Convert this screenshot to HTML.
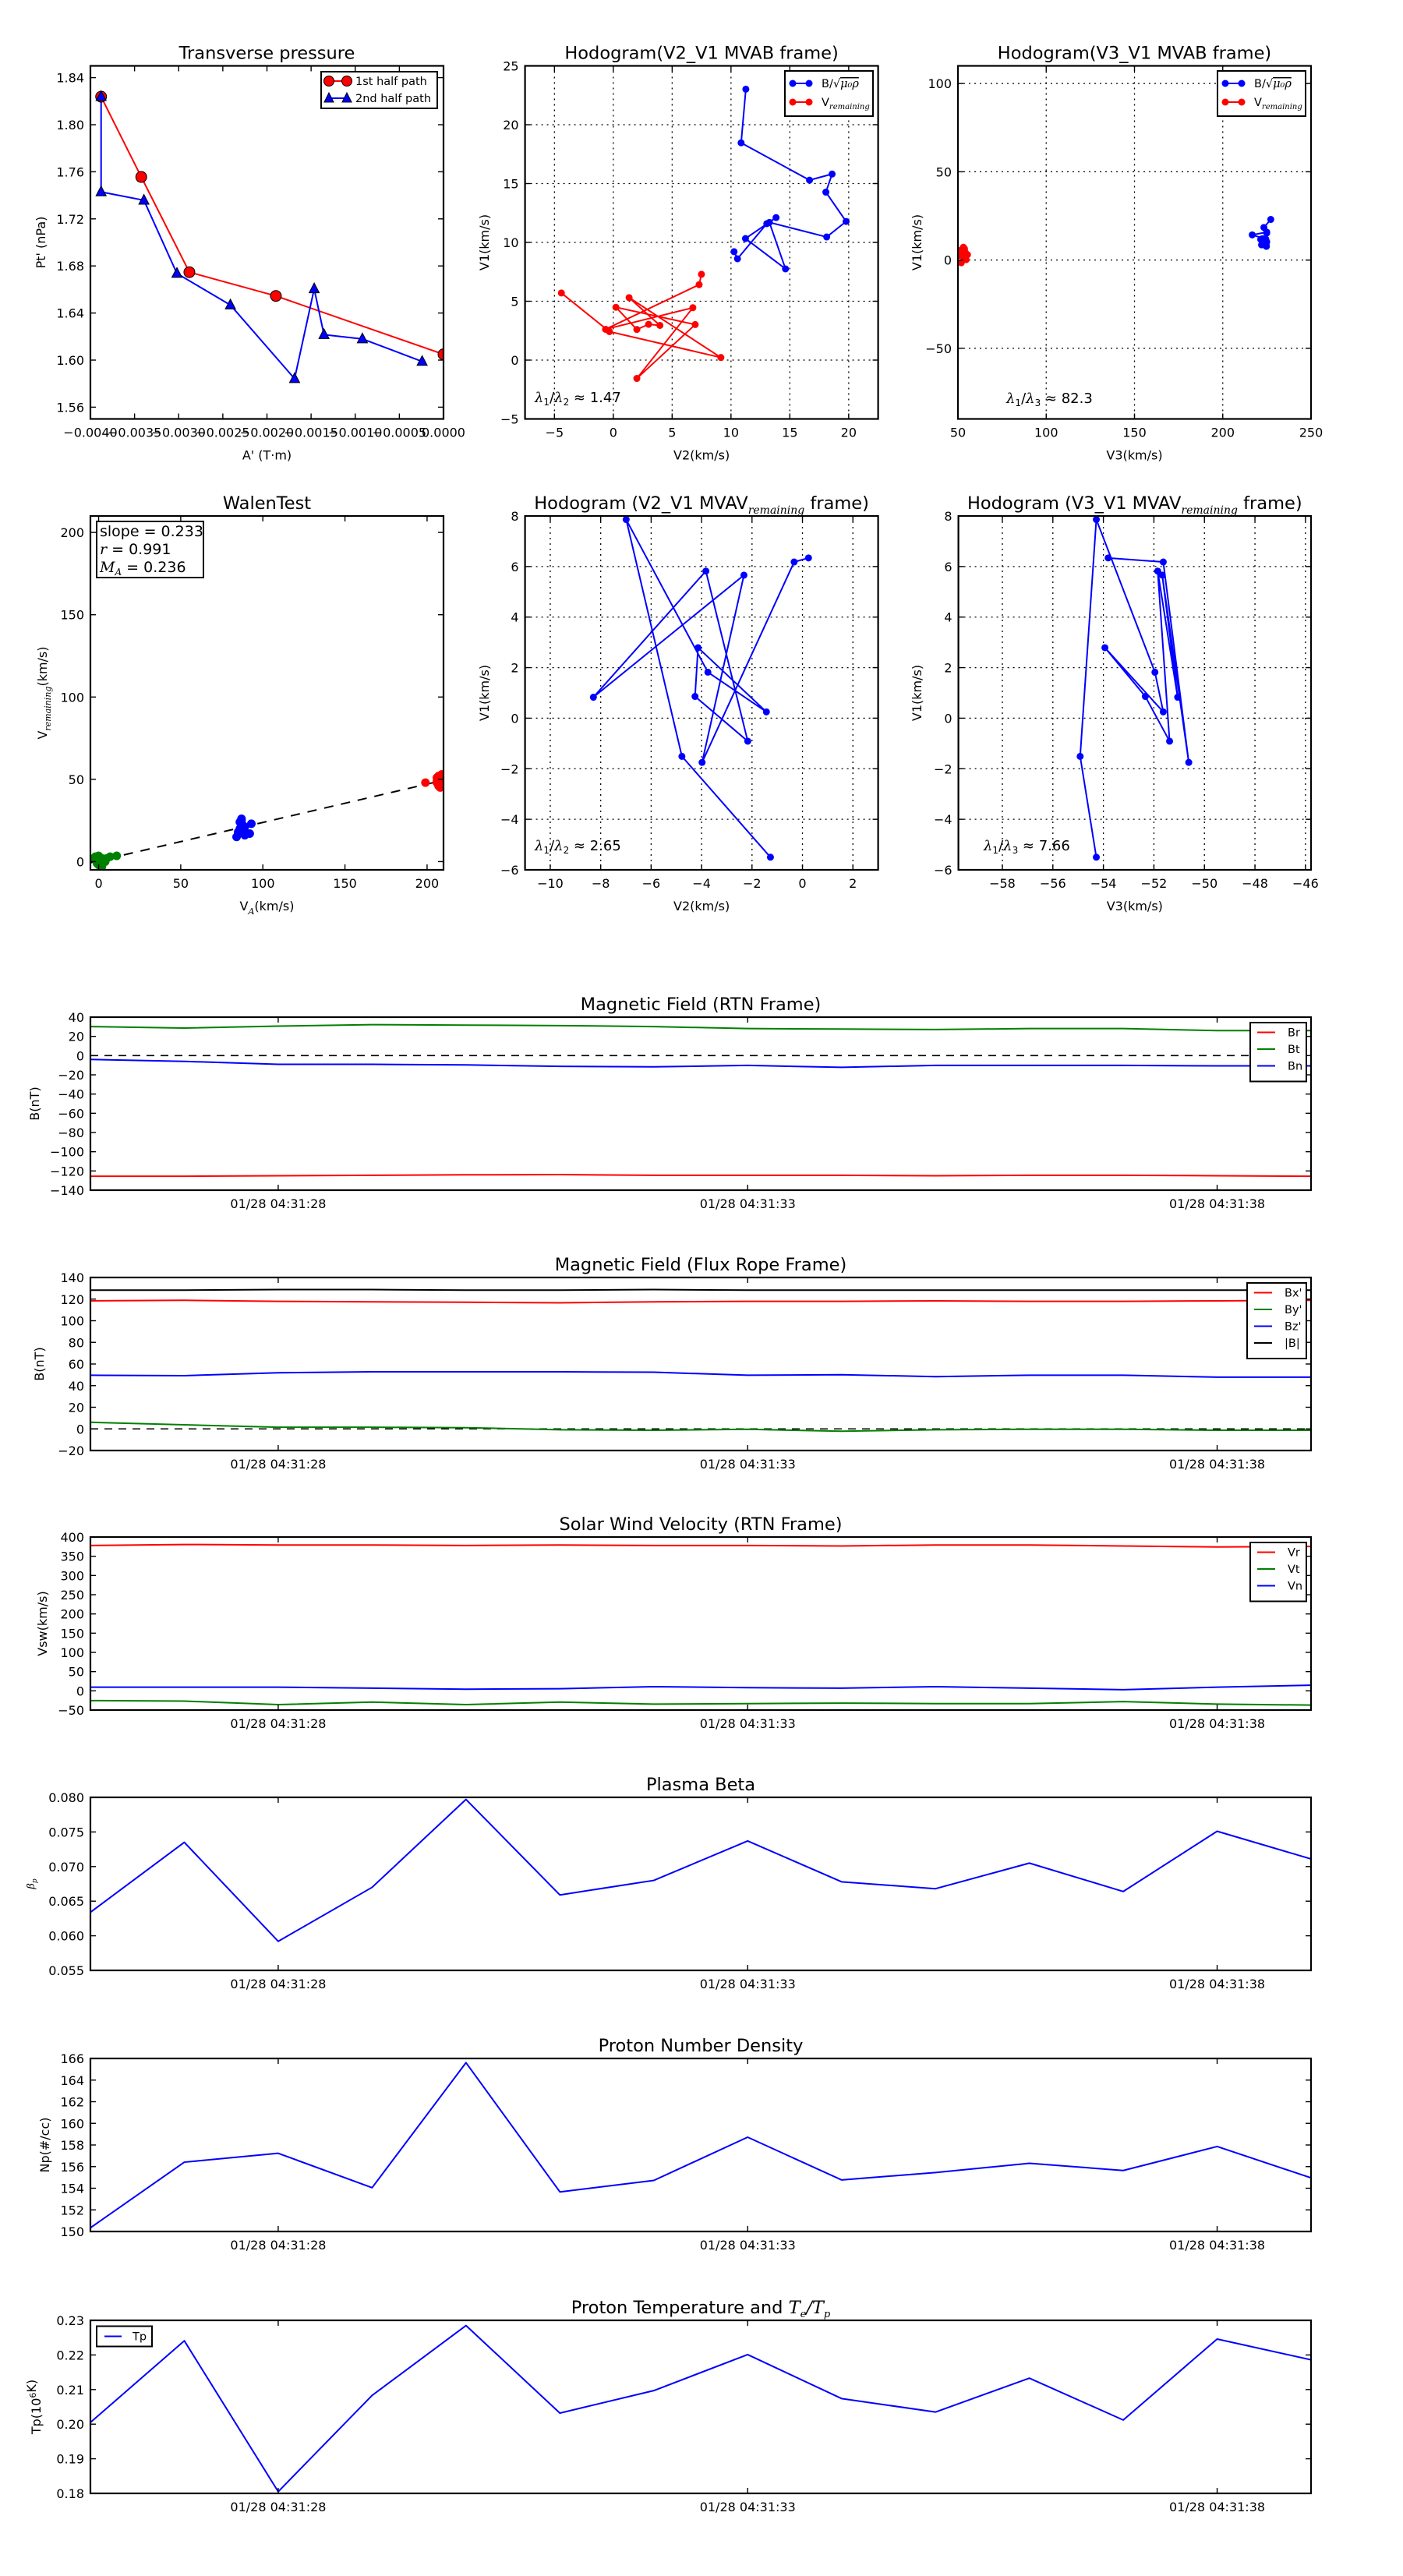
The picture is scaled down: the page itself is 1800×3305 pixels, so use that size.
<!DOCTYPE html>
<html>
<head>
<meta charset="utf-8">
<style>
html,body{margin:0;padding:0;background:#fff;}
svg text{font-family:"DejaVu Sans","Liberation Sans",sans-serif;fill:#000;}
</style>
</head>
<body>
<svg id="fig" width="1800" height="3300" viewBox="0 0 1800 3300" xmlns="http://www.w3.org/2000/svg">
<rect x="0" y="0" width="1800" height="3300" fill="#ffffff"/>
</svg>
<script>
// ---------------- DATA ----------------
const p1A1 = [-0.003879,-0.003424,-0.002879,-0.001899,0.0];
const p1P1 = [1.8238,1.7556,1.6747,1.6545,1.6049];
const p1A2 = [-0.003879,-0.003879,-0.003394,-0.003020,-0.002414,-0.001687,-0.001465,-0.001354,-0.000919,-0.000242];
const p1P2 = [1.8238,1.7429,1.7358,1.6736,1.6468,1.5842,1.6605,1.6216,1.6180,1.5988];
const hB_V2 = [11.26,10.86,16.67,18.59,18.06,19.78,18.13,13.26,14.63,11.23,13.83,13.04,10.55,10.26];
const hB_V1 = [23.02,18.46,15.29,15.81,14.27,11.78,10.46,11.70,7.75,10.33,12.11,11.59,8.61,9.21];
const hB_V3 = [227.2,223.3,224.9,224.9,216.7,224.4,223.1,221.5,224.7,224.9,222.5,224.0,222.0,224.6];
const hV_V2 = [7.49,7.29,-0.66,6.76,2.00,6.96,0.22,2.00,3.00,3.96,1.34,9.14,-0.33,-4.41];
const hV_V1 = [7.29,6.41,2.62,4.45,-1.56,3.02,4.49,2.60,3.04,2.95,5.31,0.22,2.42,5.70];
const hV_V3 = [53.1,53.7,52.6,54.1,51.9,54.8,53.4,51.2,55.4,52.2,51.3,54.6,52.0,51.9];
const wGreenX = [-2,-1,0,1,2,3,4,7,11,0,-1,2,5,-3];
const wGreenY = [3,1,-2,0,2,1,0,3,3.5,3.5,-1,-3,2,2];
const wBlueX = [87,86,88,93,84,85,90,89,86,88,92,87,85,89];
const wBlueY = [26,24,22,23,15,18,17,16,20,19,17,25,17,21];
const wRedX = [199,206,207,209,208,207,210,206,208,209,207,208,210,206];
const wRedY = [48,51,52,53,47,46,49,48,50,51,48,45,52,49];
const walenSlope = 0.233;
const walenIntercept = 0.5;
const mV2 = [0.24,-0.33,-3.98,-2.32,-8.29,-3.83,-2.17,-4.26,-4.14,-1.43,-3.75,-6.99,-4.78,-1.27];
const mV1 = [6.34,6.18,-1.75,5.66,0.83,5.82,-0.91,0.86,2.79,0.25,1.82,7.86,-1.51,-5.50];
const mV3 = [-53.81,-51.63,-50.62,-51.67,-51.06,-51.85,-51.38,-52.34,-53.94,-51.63,-51.96,-54.28,-54.92,-54.28];
const tSec = [26,27,28,29,30,31,32,33,34,35,36,37,38,39];
const timeTicks = [28,33,38];
const timeLabels = ['01/28 04:31:28','01/28 04:31:33','01/28 04:31:38'];
const Br = [-125.5,-125.5,-125,-124.5,-124,-123.8,-124.5,-124.5,-124.5,-125,-124.5,-124.5,-125,-125.5];
const Bt = [30.2,28.6,30.7,32.2,31.7,31.2,30.2,28.1,27.6,27.1,28.1,28.1,26.0,26.0];
const Bn = [-4,-6,-9.1,-9.1,-9.7,-11.2,-11.7,-10.2,-12.2,-10.2,-10.2,-10.2,-10.7,-10.7];
const Bxp = [118.4,118.9,117.9,117.5,117.1,116.6,117.5,117.9,117.9,118.4,117.9,117.9,118.4,118.9];
const Byp = [6.1,3.8,1.5,1.5,1.1,-0.8,-1.3,-0.4,-2.2,-0.8,-0.4,-0.4,-1.3,-1.3];
const Bzp = [49.6,49.2,51.9,52.8,52.8,52.8,52.4,49.6,50.1,48.3,49.6,49.6,47.8,47.8];
const Bmag = [128.3,128.3,128.8,128.8,128.3,128.3,128.8,128.3,128.3,128.3,128.3,128.3,128.3,128.3];
const Vr = [378,380.6,379.3,379.3,378,379.3,378,378,376.7,379.3,379.3,376.7,374.1,375.4];
const Vt = [-25.4,-26.7,-35.8,-29.3,-35.8,-29.3,-34.5,-33.2,-31.9,-33.2,-33.2,-28,-34.5,-37.1];
const Vn = [9.5,9.5,9.5,6.9,4.3,5.6,10.8,8.2,6.9,10.8,6.9,3.0,9.5,14.6];
const beta = [0.0634,0.0735,0.0592,0.0670,0.0797,0.0659,0.0680,0.0737,0.0678,0.0668,0.0705,0.0664,0.0751,0.0711];
const Np = [150.34,156.41,157.23,154.05,165.61,153.66,154.72,158.72,154.77,155.45,156.31,155.64,157.86,154.96];
const Tp = [0.2005,0.2241,0.1805,0.2083,0.2285,0.2032,0.2097,0.2201,0.2074,0.2035,0.2133,0.2012,0.2246,0.2186];
const p1XTicks = [-0.004,-0.0035,-0.003,-0.0025,-0.002,-0.0015,-0.001,-0.0005,0];
const p1XLabels = ['\u22120.0040','\u22120.0035','\u22120.0030','\u22120.0025','\u22120.0020','\u22120.0015','\u22120.0010','\u22120.0005','0.0000'];
const p1YTicks = [1.56,1.60,1.64,1.68,1.72,1.76,1.80,1.84];
const p1YLabels = ['1.56','1.60','1.64','1.68','1.72','1.76','1.80','1.84'];
const h1XTicks = [-5,0,5,10,15,20];
const h1XLabels = ['\u22125','0','5','10','15','20'];
const h1YTicks = [-5,0,5,10,15,20,25];
const h1YLabels = ['\u22125','0','5','10','15','20','25'];
const h2XTicks = [50,100,150,200,250];
const h2XLabels = ['50','100','150','200','250'];
const h2YTicks = [-50,0,50,100];
const h2YLabels = ['\u221250','0','50','100'];
const wTicks = [0,50,100,150,200];
const wLabels = ['0','50','100','150','200'];
const m5XTicks = [-10,-8,-6,-4,-2,0,2];
const m5XLabels = ['\u221210','\u22128','\u22126','\u22124','\u22122','0','2'];
const m6XTicks = [-58,-56,-54,-52,-50,-48,-46];
const m6XLabels = ['\u221258','\u221256','\u221254','\u221252','\u221250','\u221248','\u221246'];
const mYTicks = [-6,-4,-2,0,2,4,6,8];
const mYLabels = ['\u22126','\u22124','\u22122','0','2','4','6','8'];
const rtnTicks = [-140,-120,-100,-80,-60,-40,-20,0,20,40];
const rtnLabels = ['\u2212140','\u2212120','\u2212100','\u221280','\u221260','\u221240','\u221220','0','20','40'];
const frTicks = [-20,0,20,40,60,80,100,120,140];
const frLabels = ['\u221220','0','20','40','60','80','100','120','140'];
const vTicks = [-50,0,50,100,150,200,250,300,350,400];
const vLabels = ['\u221250','0','50','100','150','200','250','300','350','400'];
const betaTicks = [0.055,0.060,0.065,0.070,0.075,0.080];
const betaLabels = ['0.055','0.060','0.065','0.070','0.075','0.080'];
const npTicks = [150,152,154,156,158,160,162,164,166];
const npLabels = ['150','152','154','156','158','160','162','164','166'];
const tpTicks = [0.18,0.19,0.20,0.21,0.22,0.23];
const tpLabels = ['0.18','0.19','0.20','0.21','0.22','0.23'];

// ---------------- HELPERS ----------------
const NS = 'http://www.w3.org/2000/svg';
const svg = document.getElementById('fig');
function mk(tag, attrs, parent) {
  const e = document.createElementNS(NS, tag);
  for (const k in attrs) e.setAttribute(k, attrs[k]);
  parent.appendChild(e);
  return e;
}
function txt(parent, x, y, s, size, anchor, name) {
  const t = mk('text', {x: x, y: y, 'font-size': size, 'text-anchor': anchor || 'start'}, parent);
  t.textContent = s;
  
  
  return t;
}
const SERIF = 'font-style="italic" font-family="DejaVu Serif, Liberation Serif, serif"';
function SUBS(s, fs, d) { return '<tspan dy="' + d + '" font-size="' + fs + '" ' + SERIF + '>' + s + '</tspan><tspan dy="-' + d + '">\u200B</tspan>'; }
function SUBN(s, fs, d) { return '<tspan dy="' + d + '" font-size="' + fs + '">' + s + '</tspan><tspan dy="-' + d + '">\u200B</tspan>'; }
const SUB = (s) => SUBS(s, 11, 5);
const VREM = 'V' + SUB('remaining');
const BSQ = 'B/\u221A<tspan ' + SERIF + ' text-decoration="overline">\u03BC\u2080\u03C1</tspan>';
const LAM = '<tspan ' + SERIF + '>\u03BB</tspan>';

function axes(c) {
  const g = mk('g', {}, svg);
  
  
  const sx = v => c.x0 + (v - c.xmin) / (c.xmax - c.xmin) * c.w;
  const sy = v => c.y0 + c.h - (v - c.ymin) / (c.ymax - c.ymin) * c.h;
  const cp = mk('clipPath', {id: c.name + '-clip'}, g);
  
  
  const cr = mk('rect', {x: c.x0, y: c.y0, width: c.w, height: c.h}, cp);
  
  
  if (c.grid) {
    c.xticks.forEach(v => {
      const l = mk('line', {x1: sx(v), x2: sx(v), y1: c.y0, y2: c.y0 + c.h, stroke: '#000', 'stroke-width': 1.3, 'stroke-dasharray': '2,5'}, g);
      
      
    });
    c.yticks.forEach(v => {
      const l = mk('line', {x1: c.x0, x2: c.x0 + c.w, y1: sy(v), y2: sy(v), stroke: '#000', 'stroke-width': 1.3, 'stroke-dasharray': '2,5'}, g);
      
      
    });
  }
  const data = mk('g', {'clip-path': 'url(#' + c.name + '-clip)'}, g);
  
  
  const deco = mk('g', {}, g);
  
  
  c.xticks.forEach((v, i) => {
    const x = sx(v);
    const t1 = mk('line', {x1: x, x2: x, y1: c.y0 + c.h, y2: c.y0 + c.h - 7, stroke: '#000', 'stroke-width': 1.4}, deco);
    
    
    const t2 = mk('line', {x1: x, x2: x, y1: c.y0, y2: c.y0 + 7, stroke: '#000', 'stroke-width': 1.4}, deco);
    
    
    txt(deco, x, c.y0 + c.h + 23, c.xlabels[i], 16, 'middle', 'x-tick-label');
  });
  c.yticks.forEach((v, i) => {
    const y = sy(v);
    const t1 = mk('line', {x1: c.x0, x2: c.x0 + 7, y1: y, y2: y, stroke: '#000', 'stroke-width': 1.4}, deco);
    
    
    const t2 = mk('line', {x1: c.x0 + c.w, x2: c.x0 + c.w - 7, y1: y, y2: y, stroke: '#000', 'stroke-width': 1.4}, deco);
    
    
    txt(deco, c.x0 - 8, y + 6, c.ylabels[i], 16, 'end', 'y-tick-label');
  });
  const fr = mk('rect', {x: c.x0, y: c.y0, width: c.w, height: c.h, fill: 'none', stroke: '#000', 'stroke-width': 2.2}, deco);
  
  
  if (c.xlabel) {
    const xl = txt(deco, c.x0 + c.w / 2, c.y0 + c.h + 52, '', 16, 'middle', 'x-axis-title');
    xl.innerHTML = c.xlabel;
  }
  if (c.ylabel) {
    const yl = txt(deco, 0, 0, '', 16, 'middle', 'y-axis-title');
    yl.setAttribute('transform', 'translate(' + (c.ylx + 6) + ',' + (c.y0 + c.h / 2) + ') rotate(-90)');
    yl.innerHTML = c.ylabel;
  }
  if (c.title) {
    const tt = txt(deco, c.x0 + c.w / 2, c.y0 - 9, '', 22.5, 'middle', 'chart-title');
    tt.innerHTML = c.title;
  }
  return {sx, sy, g, data, deco};
}
function polyline(ax, xs, ys, color, width, name, dash) {
  let d = '';
  xs.forEach((x, i) => { d += (i ? 'L' : 'M') + ax.sx(x).toFixed(2) + ',' + ax.sy(ys[i]).toFixed(2); });
  const p = mk('path', {d: d, fill: 'none', stroke: color, 'stroke-width': width, 'stroke-linejoin': 'round'}, ax.data);
  if (dash) p.setAttribute('stroke-dasharray', dash);
  
  
  return p;
}
function dots(ax, xs, ys, color, r, name, edge) {
  xs.forEach((x, i) => {
    const c = mk('circle', {cx: ax.sx(x), cy: ax.sy(ys[i]), r: r, fill: color}, ax.data);
    if (edge) { c.setAttribute('stroke', '#000'); c.setAttribute('stroke-width', '1'); }
    
    
  });
}
function tris(ax, xs, ys, color, name) {
  xs.forEach((x, i) => {
    const X = ax.sx(x), Y = ax.sy(ys[i]);
    const t = mk('polygon', {points: X + ',' + (Y - 7.5) + ' ' + (X - 6.5) + ',' + (Y + 5) + ' ' + (X + 6.5) + ',' + (Y + 5), fill: color, stroke: '#000', 'stroke-width': 1}, ax.data);
    
    
  });
}
function legendBox(parent, x, y, w, h, name) {
  const b = mk('rect', {x: x, y: y, width: w, height: h, fill: '#fff', stroke: '#000', 'stroke-width': 2}, parent);
  
  
  return b;
}
function legLine(parent, x1, x2, y, color, name, markers, tri) {
  const l = mk('line', {x1: x1, x2: x2, y1: y, y2: y, stroke: color, 'stroke-width': 2}, parent);
  
  
  if (markers) {
    [x1, x2].forEach(xx => {
      if (tri) {
        const t = mk('polygon', {points: xx + ',' + (y - 7) + ' ' + (xx - 6) + ',' + (y + 5) + ' ' + (xx + 6) + ',' + (y + 5), fill: color, stroke: '#000', 'stroke-width': 1}, parent);
        
        
      } else {
        const c = mk('circle', {cx: xx, cy: y, r: markers, fill: color}, parent);
        if (markers > 5) { c.setAttribute('stroke', '#000'); c.setAttribute('stroke-width', '1'); }
        
        
      }
    });
  }
}

// ---------------- PLOT 1 ----------------
const ax1 = axes({name: 'transverse-pressure', x0: 116, y0: 84.5, w: 453, h: 453, xmin: -0.004, xmax: 0, ymin: 1.55, ymax: 1.85,
  xticks: p1XTicks, xlabels: p1XLabels, yticks: p1YTicks, ylabels: p1YLabels,
  title: 'Transverse pressure', xlabel: "A' (T\u00B7m)", ylabel: "Pt' (nPa)", ylx: 52});
polyline(ax1, p1A1, p1P1, '#ff0000', 2, 'first-half-line');
polyline(ax1, p1A2, p1P2, '#0000ff', 2, 'second-half-line');
dots(ax1, p1A1, p1P1, '#ff0000', 7, 'first-half-marker', true);
tris(ax1, p1A2, p1P2, '#0000ff', 'second-half-marker');
legendBox(ax1.deco, 412, 92, 149, 47, 'pressure-legend');
legLine(ax1.deco, 422, 445, 104, '#ff0000', 'legend-first-half', 6.5);
txt(ax1.deco, 456, 109, '1st half path', 14.5, 'start', 'legend-first-half-label');
legLine(ax1.deco, 422, 445, 126, '#0000ff', 'legend-second-half', 1, true);
txt(ax1.deco, 456, 131, '2nd half path', 14.5, 'start', 'legend-second-half-label');

// ---------------- PLOT 2 ----------------
const ax2 = axes({name: 'hodogram-v2-v1-mvab', x0: 673.6, y0: 84.5, w: 453, h: 453, xmin: -7.5, xmax: 22.5, ymin: -5, ymax: 25,
  xticks: h1XTicks, xlabels: h1XLabels, yticks: h1YTicks, ylabels: h1YLabels, grid: true,
  title: 'Hodogram(V2_V1 MVAB frame)', xlabel: 'V2(km/s)', ylabel: 'V1(km/s)', ylx: 621});
polyline(ax2, hB_V2, hB_V1, '#0000ff', 2, 'b-alfven-line');
dots(ax2, hB_V2, hB_V1, '#0000ff', 4.5, 'b-alfven-point');
polyline(ax2, hV_V2, hV_V1, '#ff0000', 2, 'v-remaining-line');
dots(ax2, hV_V2, hV_V1, '#ff0000', 4.5, 'v-remaining-point');
legendBox(ax2.deco, 1007, 91, 113, 58, 'hodogram-mvab-legend');
legLine(ax2.deco, 1017, 1038, 107, '#0000ff', 'legend-b-alfven', 4.5);
const l2a = txt(ax2.deco, 1054, 112, '', 14.5, 'start', 'legend-b-alfven-label'); l2a.innerHTML = BSQ;
legLine(ax2.deco, 1017, 1038, 131, '#ff0000', 'legend-v-remaining', 4.5);
const l2b = txt(ax2.deco, 1054, 136, '', 14.5, 'start', 'legend-v-remaining-label'); l2b.innerHTML = 'V' + SUBS('remaining', 10, 4);
const r2 = txt(ax2.deco, 686, 516, '', 18, 'start', 'eigen-ratio-text');
r2.innerHTML = LAM + SUBN('1', 12, 4) + '/' + LAM + SUBN('2', 12, 4) + ' \u2248 1.47';

// ---------------- PLOT 3 ----------------
const ax3 = axes({name: 'hodogram-v3-v1-mvab', x0: 1229, y0: 84.5, w: 453, h: 453, xmin: 50, xmax: 250, ymin: -90, ymax: 110,
  xticks: h2XTicks, xlabels: h2XLabels, yticks: h2YTicks, ylabels: h2YLabels, grid: true,
  title: 'Hodogram(V3_V1 MVAB frame)', xlabel: 'V3(km/s)', ylabel: 'V1(km/s)', ylx: 1176});
polyline(ax3, hB_V3, hB_V1, '#0000ff', 2, 'b-alfven-line');
dots(ax3, hB_V3, hB_V1, '#0000ff', 4.5, 'b-alfven-point');
polyline(ax3, hV_V3, hV_V1, '#ff0000', 2, 'v-remaining-line');
dots(ax3, hV_V3, hV_V1, '#ff0000', 4.5, 'v-remaining-point');
legendBox(ax3.deco, 1562, 91, 113, 58, 'hodogram-mvab3-legend');
legLine(ax3.deco, 1572, 1593, 107, '#0000ff', 'legend-b-alfven', 4.5);
const l3a = txt(ax3.deco, 1609, 112, '', 14.5, 'start', 'legend-b-alfven-label'); l3a.innerHTML = BSQ;
legLine(ax3.deco, 1572, 1593, 131, '#ff0000', 'legend-v-remaining', 4.5);
const l3b = txt(ax3.deco, 1609, 136, '', 14.5, 'start', 'legend-v-remaining-label'); l3b.innerHTML = 'V' + SUBS('remaining', 10, 4);
const r3 = txt(ax3.deco, 1291, 517, '', 18, 'start', 'eigen-ratio-text');
r3.innerHTML = LAM + SUBN('1', 12, 4) + '/' + LAM + SUBN('3', 12, 4) + ' \u2248 82.3';

// ---------------- PLOT 4: Walen ----------------
const ax4 = axes({name: 'walen-test', x0: 116, y0: 662, w: 453, h: 454, xmin: -5, xmax: 210, ymin: -5, ymax: 210,
  xticks: wTicks, xlabels: wLabels, yticks: wTicks, ylabels: wLabels,
  title: 'WalenTest', xlabel: 'V' + SUB('A') + '(km/s)', ylabel: VREM + '(km/s)', ylx: 54});
const fitX = [-5, 210];
const fitY = fitX.map(v => walenSlope * v + walenIntercept);
polyline(ax4, fitX, fitY, '#000', 2, 'walen-fit-line', '12,10');
dots(ax4, wGreenX, wGreenY, '#008000', 5.5, 'walen-green-point');
dots(ax4, wBlueX, wBlueY, '#0000ff', 5.5, 'walen-blue-point');
dots(ax4, wRedX, wRedY, '#ff0000', 5.5, 'walen-red-point');
legendBox(ax4.deco, 124, 669, 137, 72, 'walen-stats-box');
txt(ax4.deco, 128, 688, 'slope = 0.233', 19, 'start', 'walen-slope-text');
const wr = txt(ax4.deco, 128, 711, '', 19, 'start', 'walen-r-text');
wr.innerHTML = '<tspan ' + SERIF + '>r</tspan> = 0.991';
const wm = txt(ax4.deco, 128, 734, '', 19, 'start', 'walen-ma-text');
wm.innerHTML = '<tspan ' + SERIF + '>M</tspan>' + SUBS('A', 12, 4) + ' = 0.236';

// ---------------- PLOT 5 ----------------
const ax5 = axes({name: 'hodogram-v2-v1-mvav', x0: 673.6, y0: 662, w: 453, h: 454, xmin: -11, xmax: 3, ymin: -6, ymax: 8,
  xticks: m5XTicks, xlabels: m5XLabels, yticks: mYTicks, ylabels: mYLabels, grid: true,
  title: 'Hodogram (V2_V1 MVAV' + SUBS('remaining', 14, 6) + ' frame)', xlabel: 'V2(km/s)', ylabel: 'V1(km/s)', ylx: 621});
polyline(ax5, mV2, mV1, '#0000ff', 2, 'mvav-line');
dots(ax5, mV2, mV1, '#0000ff', 4.5, 'mvav-point');
const r5 = txt(ax5.deco, 686, 1091, '', 18, 'start', 'eigen-ratio-text');
r5.innerHTML = LAM + SUBN('1', 12, 4) + '/' + LAM + SUBN('2', 12, 4) + ' \u2248 2.65';

// ---------------- PLOT 6 ----------------
const ax6 = axes({name: 'hodogram-v3-v1-mvav', x0: 1229.6, y0: 662, w: 452.4, h: 454, xmin: -59.74, xmax: -45.78, ymin: -6, ymax: 8,
  xticks: m6XTicks, xlabels: m6XLabels, yticks: mYTicks, ylabels: mYLabels, grid: true,
  title: 'Hodogram (V3_V1 MVAV' + SUBS('remaining', 14, 6) + ' frame)', xlabel: 'V3(km/s)', ylabel: 'V1(km/s)', ylx: 1176});
polyline(ax6, mV3, mV1, '#0000ff', 2, 'mvav-line');
dots(ax6, mV3, mV1, '#0000ff', 4.5, 'mvav-point');
const r6 = txt(ax6.deco, 1262, 1091, '', 18, 'start', 'eigen-ratio-text');
r6.innerHTML = LAM + SUBN('1', 12, 4) + '/' + LAM + SUBN('3', 12, 4) + ' \u2248 7.66';

// ---------------- TIME SERIES ----------------
function tsAxes(name, top, ymin, ymax, yt, yl, title, ylabel, ylx) {
  return axes({name: name, x0: 116, y0: top, w: 1566, h: 222, xmin: 26, xmax: 39, ymin: ymin, ymax: ymax,
    xticks: timeTicks, xlabels: timeLabels, yticks: yt, ylabels: yl, title: title, ylabel: ylabel, ylx: ylx});
}
function tsLegend(ax, x, top, w, entries, colors, labels, name) {
  legendBox(ax.deco, x, top + 7, w, entries.length * 21.5 + 11, name);
  entries.forEach((e, i) => {
    const y = top + 19.5 + i * 21.5;
    legLine(ax.deco, x + 9, x + 32, y, colors[i], name + '-entry');
    txt(ax.deco, x + 48, y + 5, labels[i], 14.5, 'start', name + '-label');
  });
}
const ax7 = tsAxes('magnetic-field-rtn', 1305, -140, 40, rtnTicks, rtnLabels, 'Magnetic Field (RTN Frame)', 'B(nT)', 44);
polyline(ax7, [26, 39], [0, 0], '#000', 1.6, 'zero-line', '10,8');
polyline(ax7, tSec, Br, '#ff0000', 2, 'br-line');
polyline(ax7, tSec, Bt, '#008000', 2, 'bt-line');
polyline(ax7, tSec, Bn, '#0000ff', 2, 'bn-line');
tsLegend(ax7, 1604, 1305, 72, [0, 1, 2], ['#ff0000', '#008000', '#0000ff'], ['Br', 'Bt', 'Bn'], 'rtn-legend');
const ax8 = tsAxes('magnetic-field-flux-rope', 1639, -20, 140, frTicks, frLabels, 'Magnetic Field (Flux Rope Frame)', 'B(nT)', 50);
polyline(ax8, [26, 39], [0, 0], '#000', 1.6, 'zero-line', '10,8');
polyline(ax8, tSec, Bxp, '#ff0000', 2, 'bx-line');
polyline(ax8, tSec, Byp, '#008000', 2, 'by-line');
polyline(ax8, tSec, Bzp, '#0000ff', 2, 'bz-line');
polyline(ax8, tSec, Bmag, '#000000', 2, 'bmag-line');
tsLegend(ax8, 1600, 1639, 76, [0, 1, 2, 3], ['#ff0000', '#008000', '#0000ff', '#000000'], ["Bx'", "By'", "Bz'", '|B|'], 'flux-rope-legend');
const ax9 = tsAxes('solar-wind-velocity', 1972, -50, 400, vTicks, vLabels, 'Solar Wind Velocity (RTN Frame)', 'Vsw(km/s)', 54);
polyline(ax9, tSec, Vr, '#ff0000', 2, 'vr-line');
polyline(ax9, tSec, Vt, '#008000', 2, 'vt-line');
polyline(ax9, tSec, Vn, '#0000ff', 2, 'vn-line');
tsLegend(ax9, 1604, 1972, 72, [0, 1, 2], ['#ff0000', '#008000', '#0000ff'], ['Vr', 'Vt', 'Vn'], 'velocity-legend');
const ax10 = tsAxes('plasma-beta', 2306, 0.055, 0.080, betaTicks, betaLabels, 'Plasma Beta',
  '<tspan ' + SERIF + ' font-size="13">\u03B2</tspan>' + SUBS('p', 9, 3), 38);
polyline(ax10, tSec, beta, '#0000ff', 2, 'beta-line');
const ax11 = tsAxes('proton-density', 2641, 150, 166, npTicks, npLabels, 'Proton Number Density', 'Np(#/cc)', 57);
polyline(ax11, tSec, Np, '#0000ff', 2, 'density-line');
const ax12 = tsAxes('proton-temperature', 2977, 0.18, 0.23, tpTicks, tpLabels,
  'Proton Temperature and <tspan ' + SERIF + '>T</tspan>' + SUBS('e', 13, 5) + '<tspan ' + SERIF + '>/T</tspan>' + SUBS('p', 13, 5),
  'Tp(10' + SUBN('6', 11, -6) + 'K)', 46);
polyline(ax12, tSec, Tp, '#0000ff', 2, 'tp-line');
legendBox(ax12.deco, 124, 2984.5, 71, 26, 'tp-legend');
legLine(ax12.deco, 134, 156, 2997.5, '#0000ff', 'legend-tp');
txt(ax12.deco, 170, 3002.5, 'Tp', 14.5, 'start', 'legend-tp-label');
</script>
</body>
</html>
